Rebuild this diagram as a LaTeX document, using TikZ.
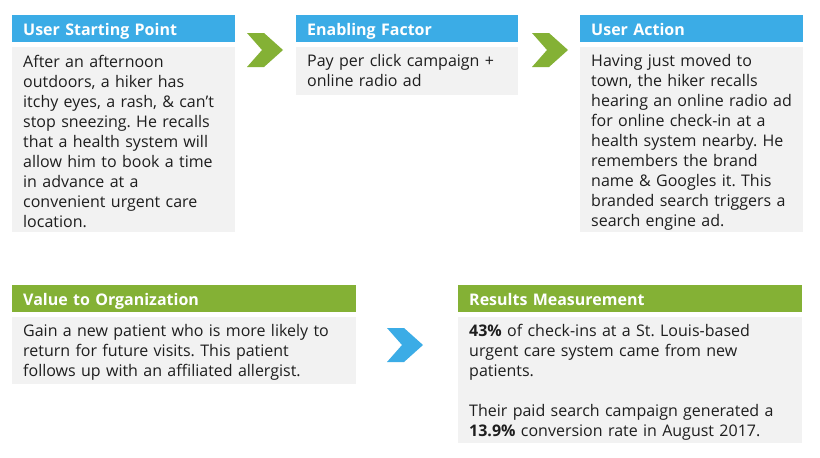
\documentclass[tikz,border=0pt]{standalone}
\usepackage{fontspec}
\setmainfont{Open Sans}
\frenchspacing
\definecolor{hdrblue}{HTML}{3BACE6}
\definecolor{hdrgreen}{HTML}{84B135}
\definecolor{bodygray}{HTML}{F2F2F2}
\definecolor{txt}{HTML}{1E1E1E}
\tikzset{
  hdr/.style={anchor=north west, inner xsep=11pt, inner ysep=0pt, text height=20pt, text depth=7pt,
    font=\fontsize{16}{20}\selectfont\bfseries, text=white, align=left},
  bodybox/.style={anchor=north west, fill=bodygray, inner xsep=11pt, inner ysep=0pt,
    font=\fontsize{16}{20}\selectfont\frenchspacing, text=txt, align=left}
}
\begin{document}
\begin{tikzpicture}[x=1pt,y=-1pt]
\useasboundingbox (0,0) rectangle (820,458);
\fill[white] (0,0) rectangle (820,458);
% top row
\node[hdr, fill=hdrblue, text width=201pt] (h1) at (12,15) {User Starting Point};
\node[bodybox, text width=201pt, text height=20pt, text depth=165pt] (b1) at (12,47)
  {After an afternoon\\outdoors, a hiker has\\itchy eyes, a rash, \& can’t\\stop sneezing. He recalls\\that a health system will\\allow him to book a time\\in advance at a\\convenient urgent care\\location.};
\node[hdr, fill=hdrblue, text width=200pt] (h2) at (296,15) {Enabling Factor};
\node[bodybox, text width=200pt, text height=19pt, text depth=29pt] (b2) at (296,47)
  {Pay per click campaign +\\online radio ad};
\node[hdr, fill=hdrblue, text width=201pt] (h3) at (580,15) {User Action};
\node[bodybox, text width=201pt, text height=19pt, text depth=166pt] (b3) at (580,47)
  {Having just moved to\\town, the hiker recalls\\hearing an online radio ad\\for online check-in at a\\health system nearby. He\\remembers the brand\\name \& Googles it. This\\branded search triggers a\\search engine ad.};
% bottom row
\node[hdr, fill=hdrgreen, text width=322pt] (h4) at (12,285) {Value to Organization};
\node[bodybox, text width=322pt, text height=19pt, text depth=48pt] (b4) at (12,317)
  {Gain a new patient who is more likely to\\return for future visits. This patient\\follows up with an affiliated allergist.};
\node[hdr, fill=hdrgreen, text width=322pt] (h5) at (458,285) {Results Measurement};
\node[bodybox, text width=322pt, text height=19pt, text depth=107pt] (b5) at (458,317)
  {\textbf{43\%} of check-ins at a St. Louis-based\\urgent care system came from new\\patients.\\[20pt]Their paid search campaign generated a\\\textbf{13.9\%} conversion rate in August 2017.};
% chevrons
\fill[hdrgreen] (247,33) -- (264,33) -- (283,50) -- (264,67) -- (247,67) -- (262,50) -- cycle;
\fill[hdrgreen] (532,33) -- (549,33) -- (568,50) -- (549,67) -- (532,67) -- (547,50) -- cycle;
\fill[hdrblue] (387,328) -- (404,328) -- (423,345) -- (404,362) -- (387,362) -- (402,345) -- cycle;
\end{tikzpicture}
\end{document}
